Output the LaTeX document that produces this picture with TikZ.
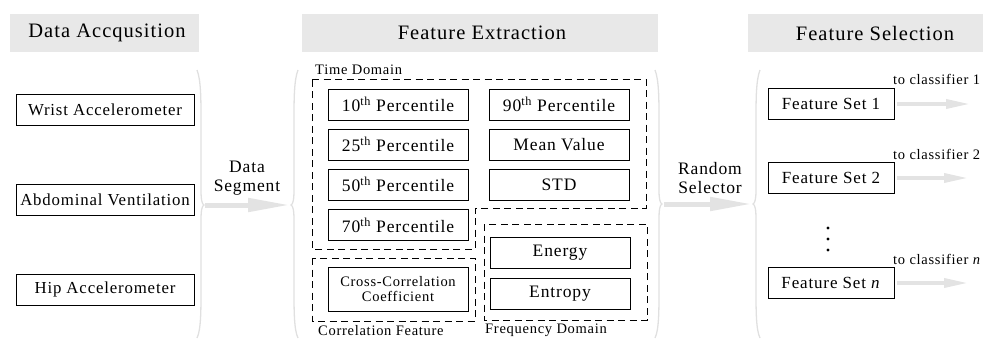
\documentclass[tikz,border=0pt]{standalone}
\usepackage{fontspec}
\setmainfont[LetterSpace=5]{Liberation Serif}
\usetikzlibrary{arrows.meta}
\definecolor{hdr}{HTML}{E8E8E8}
\definecolor{brc}{HTML}{E0E0E0}
\definecolor{arw}{HTML}{E3E3E3}
\begin{document}
\begin{tikzpicture}[x=1pt,y=-1pt,
  hdrtext/.style={font={\fontsize{20.5}{24}\selectfont}, inner sep=0pt},
  sbox/.style={draw=black, line width=0.9pt, inner sep=0pt, fill=white, minimum height=31pt},
  lbox/.style={sbox, minimum width=178pt, font={\fontsize{16.8}{20}\selectfont}},
  fbox/.style={sbox, minimum width=140pt, font={\fontsize{17.5}{20}\selectfont}},
  setbox/.style={sbox, minimum width=126pt, font={\fontsize{17}{20}\selectfont}},
  dbox/.style={draw=black, line width=0.9pt, dash pattern=on 7pt off 4.5pt},
  grplabel/.style={font={\fontsize{14.5}{17}\selectfont}, inner sep=0pt},
  midlabel/.style={font={\fontsize{17.5}{20}\selectfont}, align=center, inner sep=0pt},
  clslabel/.style={font={\fontsize{14.5}{16}\selectfont}, inner sep=0pt},
  bracecurve/.style={draw=brc, line width=1.3pt},
  fatarrow/.style={draw=arw, line width=5pt, -{Triangle[length=42pt,width=13pt]}},
  thinarrow/.style={draw=arw, line width=3.5pt, -{Triangle[length=24pt,width=9pt]}},
]
\useasboundingbox (0,0) rectangle (983,340);

% header bars
\fill[hdr] (10,14) rectangle (199,52);
\fill[hdr] (302,14) rectangle (658,52);
\fill[hdr] (748,14) rectangle (983,52);
\node[hdrtext] (h1) at (107,33) {Data Accqusition};
\node[hdrtext] (h2) at (482,33) {Feature Extraction};
\node[hdrtext] (h3) at (875,33) {Feature Selection};

% braces
\draw[bracecurve] (197,70) .. controls (201,80) and (201,100) .. (201,120) -- (201,190)
  .. controls (201,200) and (202,204) .. (204,205) .. controls (202,206) and (201,210) .. (201,220)
  -- (201,290) .. controls (201,310) and (201,330) .. (197,338);
\draw[bracecurve] (298,70) .. controls (294,80) and (294,100) .. (294,120) -- (294,190)
  .. controls (294,200) and (293,204) .. (291,205) .. controls (293,206) and (294,210) .. (294,220)
  -- (294,290) .. controls (294,310) and (294,330) .. (298,338);
\draw[bracecurve] (655,70) .. controls (659,80) and (659,100) .. (659,120) -- (659,190)
  .. controls (659,199) and (660,203) .. (662,204) .. controls (660,205) and (659,209) .. (659,219)
  -- (659,290) .. controls (659,310) and (659,330) .. (655,338);
\draw[bracecurve] (760,70) .. controls (756,80) and (756,100) .. (756,120) -- (756,190)
  .. controls (756,199) and (755,203) .. (753,204) .. controls (755,205) and (756,209) .. (756,219)
  -- (756,290) .. controls (756,310) and (756,330) .. (760,338);

\coordinate (b1) at (205,205);
\coordinate (b2) at (290,205);
\coordinate (b3) at (664,204);
\coordinate (b4) at (752,204);
\draw[fatarrow] (b1) -- (b2);
\draw[fatarrow] (b3) -- (b4);

\node[midlabel] (seg) at (247,178) {Data\\[-1pt]Segment};
\node[midlabel] (sel) at (710,178) {Random\\[-1pt]Selector};

% data acquisition
\node[lbox] (wrist) at (105,109.5) {Wrist Accelerometer};
\node[lbox] (abd) at (105,199.5) {Abdominal Ventilation};
\node[lbox] (hip) at (105,289.5) {Hip Accelerometer};

% feature extraction groups
\draw[dbox] (312,79) -- (646,79) -- (646,208) -- (475,208) -- (475,249) -- (312,249) -- cycle;
\draw[dbox] (312,258) rectangle (475,321);
\draw[dbox] (484,224) rectangle (647,320);
\node[grplabel, anchor=west] (tdl) at (315,70) {Time Domain};
\node[grplabel, anchor=west] (cfl) at (318,331) {Correlation Feature};
\node[grplabel, anchor=west] (fdl) at (485,330) {Frequency Domain};

\node[fbox] (p10) at (398,104.5) {10\textsuperscript{th} Percentile};
\node[fbox] (p90) at (559,104.5) {90\textsuperscript{th} Percentile};
\node[fbox] (p25) at (398,144.5) {25\textsuperscript{th} Percentile};
\node[fbox] (mean) at (559,144.5) {Mean Value};
\node[fbox] (p50) at (398,184.5) {50\textsuperscript{th} Percentile};
\node[fbox] (std) at (559,184.5) {STD};
\node[fbox] (p70) at (398,225) {70\textsuperscript{th} Percentile};
\node[fbox, minimum height=44pt, align=center, font={\fontsize{14.5}{15.5}\selectfont}] (xc) at (398,289) {Cross-Correlation\\Coefficient};
\node[fbox] (en) at (560,252.5) {Energy};
\node[fbox] (ent) at (560,294) {Entropy};

% feature selection
\node[setbox] (fs1) at (831,104) {Feature Set 1};
\node[setbox] (fs2) at (831,178) {Feature Set 2};
\node[setbox] (fsn) at (831,283) {Feature Set \textit{n}};

\fill (828,228) circle (1.7pt);
\fill (828,239) circle (1.7pt);
\fill (828,250) circle (1.7pt);

\coordinate (c1) at (970,104);
\coordinate (c2) at (968,178);
\coordinate (cn) at (968,283);
\draw[thinarrow] ([xshift=3pt]fs1.east) -- (c1);
\draw[thinarrow] ([xshift=3pt]fs2.east) -- (c2);
\draw[thinarrow] ([xshift=3pt]fsn.east) -- (cn);

\node[clslabel, anchor=base west] (l1) at (893,84) {to classifier 1};
\node[clslabel, anchor=base west] (l2) at (893,159) {to classifier 2};
\node[clslabel, anchor=base west] (ln) at (893,264) {to classifier \textit{n}};
\end{tikzpicture}
\end{document}
